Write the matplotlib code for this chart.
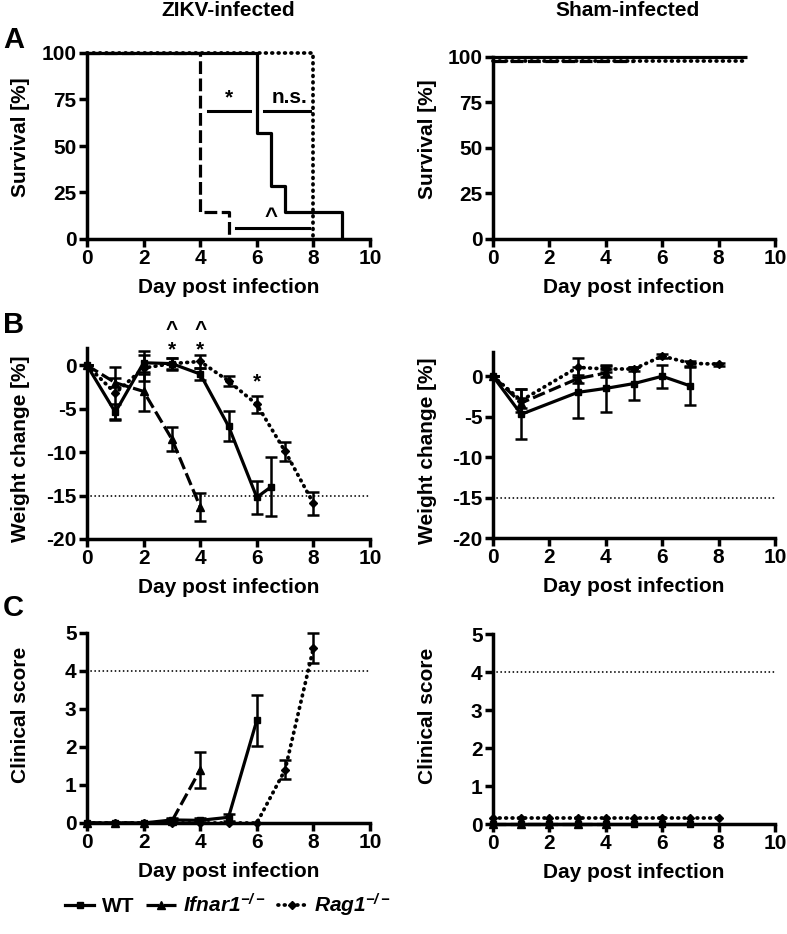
import matplotlib
matplotlib.use("Agg")
import matplotlib.pyplot as plt
from matplotlib.lines import Line2D

plt.rcParams['font.family'] = ['Liberation Sans', 'DejaVu Sans']
plt.rcParams['font.weight'] = 'bold'
plt.rcParams['axes.unicode_minus'] = False
plt.rcParams['mathtext.fontset'] = 'custom'
plt.rcParams['mathtext.it'] = 'Liberation Sans:italic:bold'
plt.rcParams['mathtext.rm'] = 'Liberation Sans:italic:bold'
plt.rcParams['mathtext.bf'] = 'Liberation Sans:italic:bold'

# ---------------- data ----------------
groups = ['WT', 'Ifnar1', 'Rag1']
legend_labels = ['WT', r'Ifnar1$^{-/-}$', r'Rag1$^{-/-}$']

# Survival (ZIKV)
surv_wt_t = [0, 6, 6.5, 7, 9]
surv_wt = [100, 57.1, 28.6, 14.3, 0]
surv_if_t = [0, 4, 5]
surv_if = [100, 14.3, 0]
surv_rag_t = [0, 8]
surv_rag = [100, 0]

# Survival (Sham)
sham_surv_wt_t = [0, 9]
sham_surv_wt = [100, 100]
sham_surv_if_t = [0, 5]
sham_surv_if = [97.6, 97.6]
sham_surv_rag_t = [0, 9]
sham_surv_rag = [97.6, 97.6]

# Weight change (ZIKV)
wt_days = [0, 1, 2, 3, 4, 5, 6, 6.5]
wt_w = [0, -5.4, 0.3, 0.2, -1.0, -7.0, -15.2, -14.0]
wt_w_err = [0, 0.9, 1.3, 0.7, 0.7, 1.7, 1.9, 3.4]
if_days = [0, 1, 2, 3, 4]
if_w = [0, -2.0, -3.0, -8.5, -16.3]
if_w_err = [0, 0.5, 2.2, 1.4, 1.6]
rag_days = [0, 1, 2, 3, 4, 5, 6, 7, 8]
rag_w = [0, -3.2, -0.3, 0.2, 0.45, -1.8, -4.5, -9.9, -15.9]
rag_w_err = [0, 3.0, 1.5, 0.6, 0.7, 0.6, 1.0, 1.1, 1.3]

# Weight change (Sham)
s_wt_days = [0, 1, 3, 4, 5, 6, 7]
s_wt_w = [0, -4.7, -2.0, -1.5, -0.9, 0.0, -1.2]
s_wt_w_err = [0, 3.1, 3.2, 2.9, 2.0, 1.4, 2.4]
s_if_days = [0, 1, 3, 4]
s_if_w = [0, -3.3, -0.3, 0.4]
s_if_w_err = [0, 0.6, 0.5, 0.5]
s_rag_days = [0, 1, 3, 4, 5, 6, 7, 8]
s_rag_w = [0, -3.0, 1.1, 0.9, 0.9, 2.5, 1.6, 1.5]
s_rag_w_err = [0, 1.4, 1.2, 0.4, 0.3, 0.2, 0.3, 0.2]

# Clinical score (ZIKV)
c_wt_days = [0, 1, 2, 3, 4, 5, 6]
c_wt = [0, 0, 0, 0.08, 0.07, 0.15, 2.7]
c_wt_err = [0, 0, 0, 0.05, 0.05, 0.1, 0.68]
c_if_days = [0, 1, 2, 3, 4]
c_if = [0, 0, 0, 0.05, 1.4]
c_if_err = [0, 0, 0, 0.05, 0.48]
c_rag_days = [0, 1, 2, 3, 4, 5, 6, 7, 8]
c_rag = [0, 0, 0, 0, 0, 0, 0, 1.4, 4.6]
c_rag_err = [0, 0, 0, 0, 0, 0, 0, 0.25, 0.4]

# Clinical score (Sham)
s_c_wt_days = [0, 1, 2, 3, 4, 5, 6, 7]
s_c_wt = [0, 0, 0, 0, 0, 0, 0, 0]
s_c_if_days = [0, 1, 2, 3, 4]
s_c_if = [0, 0, 0, 0, 0]
s_c_rag_days = [0, 1, 2, 3, 4, 5, 6, 7, 8]
s_c_rag = [0.15, 0.15, 0.15, 0.15, 0.15, 0.15, 0.15, 0.15, 0.15]

weight_threshold = -15
score_threshold = 4

# ---------------- styles ----------------
LW = 2.3
FS = 15
styles = {
    'WT': dict(ls='-', marker='s', ms=5, lw=LW),
    'Ifnar1': dict(ls=(0, (4.0, 1.4)), marker='^', ms=6, lw=LW),
    'Rag1': dict(ls=(0, (0.2, 1.5)), marker='D', ms=4.5, lw=2.7),
}

W, H = 787, 934
fig = plt.figure(figsize=(W / 100, H / 100), dpi=100)


def axrect(x0, x1, ytop, ybot):
    return [x0 / W, 1 - ybot / H, (x1 - x0) / W, (ybot - ytop) / H]


LX0, LX1 = 87, 370
RX0, RX1 = 493, 775

axA = fig.add_axes(axrect(LX0, LX1, 53, 239))
axA2 = fig.add_axes(axrect(RX0, RX1, 57, 239))
axB = fig.add_axes(axrect(LX0, LX1, 348, 539))
axB2 = fig.add_axes(axrect(RX0, RX1, 352, 538))
axC = fig.add_axes(axrect(LX0, LX1, 633, 823))
axC2 = fig.add_axes(axrect(RX0, RX1, 634, 824))


def style_axis(ax, yticks, ylim, ylabel, ylab_y):
    ax.set_xlim(0, 10)
    ax.set_ylim(*ylim)
    ax.set_xticks([0, 2, 4, 6, 8, 10])
    ax.set_yticks(yticks)
    for s in ['top', 'right']:
        ax.spines[s].set_visible(False)
    for s in ['left', 'bottom']:
        ax.spines[s].set_linewidth(2.5)
    ax.tick_params(width=2.5, length=6, labelsize=FS, direction='out', pad=1.5)
    for lab in ax.get_xticklabels() + ax.get_yticklabels():
        lab.set_fontweight('bold')
    ax.set_xlabel('Day post infection', fontsize=FS, fontweight='bold')
    ax.set_ylabel(ylabel, fontsize=FS, fontweight='bold')
    h = ax.get_position().height * H
    ax.yaxis.set_label_coords(-0.2, ylab_y)
    ax.xaxis.set_label_coords(0.5, -39 / h)


def capstyle(g):
    return 'round' if g == 'Rag1' else 'butt'


def survival(ax, t, s, g):
    st = styles[g]
    ax.step(t, s, where='post', color='black', lw=st['lw'], ls=st['ls'],
            clip_on=False, solid_capstyle='butt', dash_capstyle=capstyle(g))


def series(ax, x, y, err, g):
    st = styles[g]
    ax.plot(x, y, color='black', lw=st['lw'], ls=st['ls'], marker=st['marker'],
            ms=st['ms'], clip_on=False, zorder=3, dash_capstyle=capstyle(g))
    if err is not None:
        ax.errorbar(x, y, yerr=err, fmt='none', ecolor='black', elinewidth=1.8,
                    capsize=4, capthick=1.8, clip_on=False, zorder=3)


def thresh(ax, y):
    ax.axhline(y, color='black', lw=1.3, ls=(0, (0.05, 2.2)), dash_capstyle='round')


# Panel A left
survival(axA, surv_rag_t, surv_rag, 'Rag1')
survival(axA, surv_if_t, surv_if, 'Ifnar1')
survival(axA, surv_wt_t, surv_wt, 'WT')
axA.plot([4.28, 5.76], [69, 69], color='black', lw=2.2)
axA.plot([6.26, 7.88], [69, 69], color='black', lw=2.2)
axA.plot([5.27, 7.85], [6, 6], color='black', lw=2.2)
axA.text(5.0, 71, '*', ha='center', va='bottom', fontsize=FS, fontweight='bold')
axA.text(7.15, 71, 'n.s.', ha='center', va='bottom', fontsize=FS, fontweight='bold')
axA.text(6.5, 6, '^', ha='center', va='bottom', fontsize=FS + 1, fontweight='bold')
style_axis(axA, [0, 25, 50, 75, 100], (0, 100), 'Survival [%]', 0.55)

# Panel A right
survival(axA2, sham_surv_rag_t, sham_surv_rag, 'Rag1')
survival(axA2, sham_surv_if_t, sham_surv_if, 'Ifnar1')
survival(axA2, sham_surv_wt_t, sham_surv_wt, 'WT')
style_axis(axA2, [0, 25, 50, 75, 100], (0, 100), 'Survival [%]', 0.55)

# Panel B left
thresh(axB, weight_threshold)
series(axB, rag_days, rag_w, rag_w_err, 'Rag1')
series(axB, if_days, if_w, if_w_err, 'Ifnar1')
series(axB, wt_days, wt_w, wt_w_err, 'WT')
for d in [3, 4]:
    axB.text(d, 3.0, '^', ha='center', va='bottom', fontsize=FS, fontweight='bold', clip_on=False)
    axB.text(d, 0.7, '*', ha='center', va='bottom', fontsize=FS, fontweight='bold', clip_on=False)
axB.text(6, -3.0, '*', ha='center', va='bottom', fontsize=FS, fontweight='bold')
style_axis(axB, [-20, -15, -10, -5, 0], (-20, 2), 'Weight change [%]', 0.47)

# Panel B right
thresh(axB2, weight_threshold)
series(axB2, s_rag_days, s_rag_w, s_rag_w_err, 'Rag1')
series(axB2, s_if_days, s_if_w, s_if_w_err, 'Ifnar1')
series(axB2, s_wt_days, s_wt_w, s_wt_w_err, 'WT')
style_axis(axB2, [-20, -15, -10, -5, 0], (-20, 3), 'Weight change [%]', 0.47)

# Panel C left
thresh(axC, score_threshold)
series(axC, c_rag_days, c_rag, c_rag_err, 'Rag1')
series(axC, c_if_days, c_if, c_if_err, 'Ifnar1')
series(axC, c_wt_days, c_wt, c_wt_err, 'WT')
style_axis(axC, [0, 1, 2, 3, 4, 5], (0, 5), 'Clinical score', 0.57)

# Panel C right
thresh(axC2, score_threshold)
series(axC2, s_c_rag_days, s_c_rag, None, 'Rag1')
series(axC2, s_c_if_days, s_c_if, None, 'Ifnar1')
series(axC2, s_c_wt_days, s_c_wt, None, 'WT')
style_axis(axC2, [0, 1, 2, 3, 4, 5], (0, 5), 'Clinical score', 0.57)

# Titles and panel letters
fig.text(228 / W, 1 - 11 / H, 'ZIKV-infected', ha='center', va='center', fontsize=FS, fontweight='bold')
fig.text(628 / W, 1 - 11 / H, 'Sham-infected', ha='center', va='center', fontsize=FS, fontweight='bold')
for letter, yy in [('A', 40), ('B', 325), ('C', 608)]:
    fig.text(3 / W, 1 - yy / H, letter, ha='left', va='center', fontsize=21, fontweight='bold')

# Legend
handles = [Line2D([], [], color='black', lw=styles[g]['lw'], ls=styles[g]['ls'],
                  marker=styles[g]['marker'], ms=styles[g]['ms'], dash_capstyle=capstyle(g))
           for g in groups]
leg = fig.legend(handles, legend_labels, loc='center', bbox_to_anchor=(228 / W, 1 - 905 / H),
                 ncol=3, frameon=False, handlelength=1.4, handletextpad=0.35,
                 columnspacing=0.6, prop={'weight': 'bold', 'size': FS})
for t in leg.get_texts()[1:]:
    t.set_fontstyle('italic')

fig.savefig('out.png', dpi=100)
